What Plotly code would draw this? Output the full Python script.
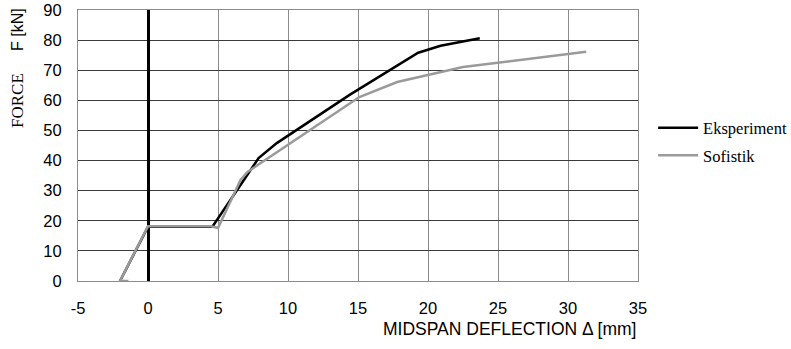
import plotly.graph_objects as go

# Data
eksperiment_x = [-2.0, 0.0, 4.6, 7.9, 9.2, 14.4, 19.3, 20.9, 23.7]
eksperiment_y = [0.0, 18.0, 18.0, 40.8, 45.8, 61.8, 75.8, 78.1, 80.6]
sofistik_x = [-1.4, -2.0, 0.0, 4.5, 5.0, 6.6, 7.1, 15.1, 17.8, 22.5, 31.3]
sofistik_y = [0.0, 0.0, 18.2, 18.2, 17.6, 33.5, 36.2, 61.1, 66.1, 71.1, 76.1]
x_tickvals = [-5, 0, 5, 10, 15, 20, 25, 30, 35]
x_ticktext = ["-5", "0", "5", "10", "15", "20", "25", "30", "35"]
y_tickvals = [0, 10, 20, 30, 40, 50, 60, 70, 80, 90]

SANS = "Liberation Sans, Arial, sans-serif"
SERIF = "Liberation Serif, Times New Roman, serif"

fig = go.Figure()
fig.add_trace(go.Scatter(x=eksperiment_x, y=eksperiment_y, mode="lines", name="Eksperiment",
                         legendgroup="a", line=dict(color="#000000", width=2.5)))
fig.add_trace(go.Scatter(x=sofistik_x, y=sofistik_y, mode="lines", name="Sofistik",
                         legendgroup="b", line=dict(color="#9a9a9a", width=2.5)))

fig.update_layout(
    width=791, height=349,
    margin=dict(l=78, r=153, t=10, b=68, autoexpand=False),
    plot_bgcolor="white", paper_bgcolor="white",
    showlegend=True,
    legend=dict(x=1.027, y=0.629, xanchor="left", yanchor="top",
                font=dict(family=SERIF, size=16.5, color="#000"),
                bgcolor="rgba(0,0,0,0)", itemwidth=40,
                traceorder="grouped", tracegroupgap=3),
    xaxis=dict(range=[-5, 35], tickvals=x_tickvals, ticktext=x_ticktext,
               showgrid=True, gridcolor="#8c8c8c", gridwidth=1,
               zeroline=True, zerolinecolor="#000000", zerolinewidth=2.5,
               showline=True, linecolor="#8c8c8c", linewidth=1, mirror=True,
               ticks="", tickfont=dict(family=SANS, size=16.5, color="#000"),
               ticklabelstandoff=12, automargin=False),
    yaxis=dict(range=[0, 90], tickvals=y_tickvals,
               showgrid=True, gridcolor="#3a3a3a", gridwidth=1,
               zeroline=False,
               showline=True, linecolor="#8c8c8c", linewidth=1, mirror=True,
               ticks="", tickfont=dict(family=SANS, size=16.5, color="#000"),
               ticklabelstandoff=12, automargin=False),
)

fig.add_annotation(text="MIDSPAN DEFLECTION \u0394 [mm]", xref="paper", yref="paper",
                   x=1.0, y=0, xanchor="right", yanchor="middle", yshift=-48,
                   showarrow=False, font=dict(family=SANS, size=17.5, color="#000"))
fig.add_annotation(text="<span style='font-family:Liberation Serif;font-size:17px'>FORCE</span>\u00a0\u00a0\u00a0\u00a0\u00a0F [kN]",
                   xref="paper", yref="paper", x=0, y=1, xshift=-61, yshift=-58,
                   textangle=-90, xanchor="center", yanchor="middle",
                   showarrow=False, font=dict(family=SANS, size=16, color="#000"))

fig.write_html("out.html")
